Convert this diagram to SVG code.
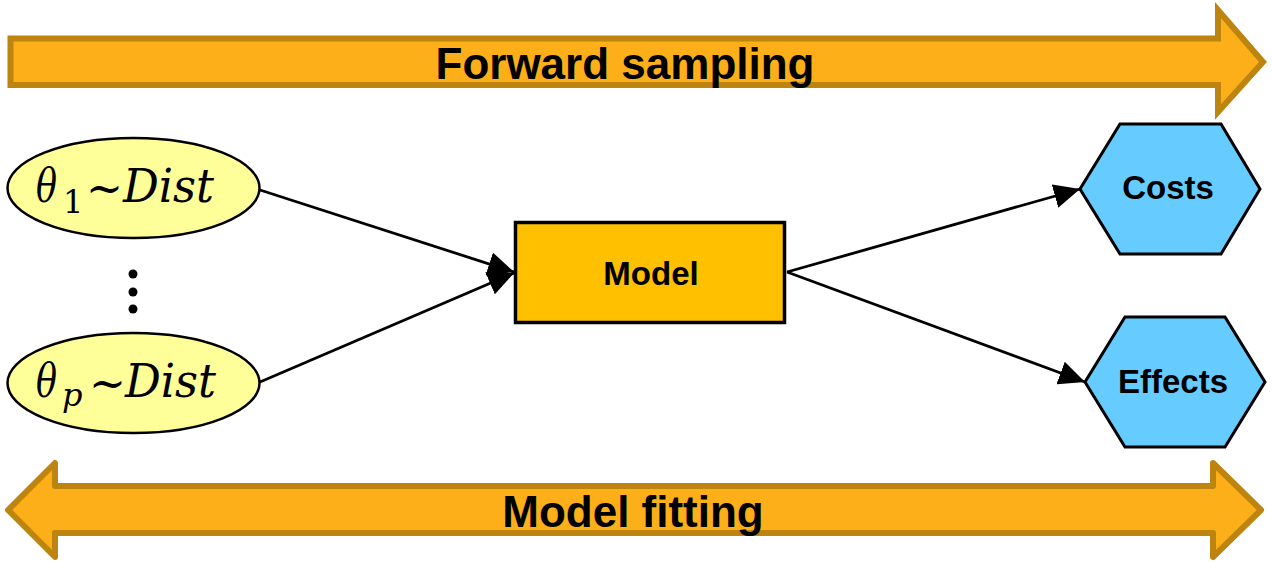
<svg xmlns="http://www.w3.org/2000/svg" width="1272" height="562" viewBox="0 0 1272 562">
<style>
.band{fill:#FCAF18;stroke:#BD8410;stroke-width:6}
.lbl{font-family:"Liberation Sans",Arial,sans-serif;font-weight:bold;fill:#000;text-anchor:middle}
.big{font-size:44px}
.mid{font-size:33px}
.ell{fill:#FFFF99;stroke:#000;stroke-width:2.5}
.math{font-family:"DejaVu Serif","Liberation Serif",serif;fill:#000}
.hex{fill:#66CCFF;stroke:#000;stroke-width:3}
.conn{stroke:#000;stroke-width:2.8;fill:none;marker-end:url(#ah)}
</style>
<defs>
<marker id="ah" markerUnits="userSpaceOnUse" markerWidth="26" markerHeight="24" refX="26" refY="12" orient="auto" viewBox="0 0 26 24">
<path d="M0,0 L26,12 L0,24 z" fill="#000"/>
</marker>
</defs>
<rect width="1272" height="562" fill="#fff"/>
<g id="forward-sampling">
<polygon class="band" stroke-linejoin="miter" points="10.5,38.5 1218,38.5 1218,10 1263,62 1218,112 1218,85 10.5,85"/>
<text class="lbl big" x="625" y="79">Forward sampling</text>
</g>
<g id="model-fitting">
<polygon class="band" stroke-linejoin="round" points="8,510 55,463 55,486 1213,486 1213,463 1261,510 1213,557 1213,533 55,533 55,557"/>
<text class="lbl big" x="633" y="527">Model fitting</text>
</g>
<g id="connectors">
<line class="conn" x1="260" y1="190" x2="514" y2="272"/>
<line class="conn" x1="260" y1="382" x2="514" y2="273"/>
<line class="conn" x1="787" y1="272" x2="1080" y2="189"/>
<line class="conn" x1="787" y1="272" x2="1085" y2="382"/>
</g>
<g id="theta1">
<ellipse class="ell" cx="133.5" cy="188" rx="126" ry="50"/>
<text class="math" font-size="46"><tspan x="36" y="202" font-style="italic" textLength="21" lengthAdjust="spacingAndGlyphs">θ</tspan><tspan x="63" y="213" font-size="32">1</tspan><tspan x="86" y="204" textLength="37" lengthAdjust="spacingAndGlyphs">~</tspan><tspan x="123" y="202" font-style="italic" textLength="91" lengthAdjust="spacingAndGlyphs">Dist</tspan></text>
</g>
<g id="dots">
<circle cx="133" cy="274" r="4.5" fill="#000"/>
<circle cx="133" cy="292" r="4.5" fill="#000"/>
<circle cx="133" cy="309" r="4.5" fill="#000"/>
</g>
<g id="thetap">
<ellipse class="ell" cx="133.5" cy="383" rx="126" ry="50"/>
<text class="math" font-size="46"><tspan x="36" y="397" font-style="italic" textLength="21" lengthAdjust="spacingAndGlyphs">θ</tspan><tspan x="62" y="406" font-size="32" font-style="italic">p</tspan><tspan x="89" y="399" textLength="37" lengthAdjust="spacingAndGlyphs">~</tspan><tspan x="125" y="397" font-style="italic" textLength="91" lengthAdjust="spacingAndGlyphs">Dist</tspan></text>
</g>
<g id="model">
<rect x="515.5" y="222.5" width="269" height="100" fill="#FFC000" stroke="#000" stroke-width="3.5"/>
<text class="lbl mid" x="651" y="285">Model</text>
</g>
<g id="costs">
<polygon class="hex" points="1080,189 1120,124 1221,124 1260,189 1221,254 1120,254"/>
<text class="lbl mid" x="1168" y="199">Costs</text>
</g>
<g id="effects">
<polygon class="hex" points="1085,382 1125,317 1225,317 1265,382 1225,447 1125,447"/>
<text class="lbl mid" x="1173" y="393">Effects</text>
</g>
</svg>
